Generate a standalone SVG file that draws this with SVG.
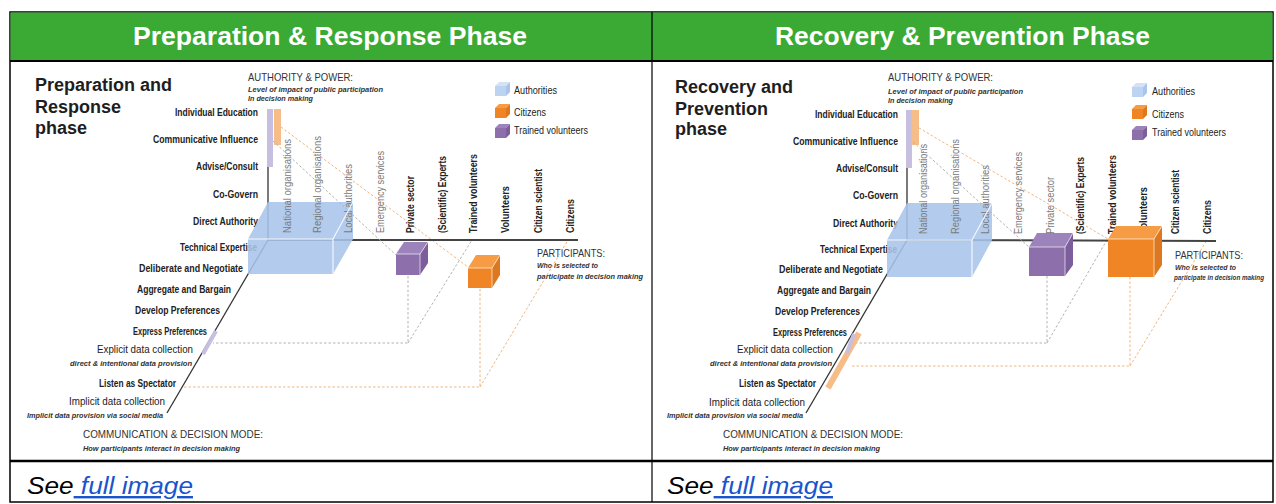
<svg xmlns="http://www.w3.org/2000/svg" width="1276" height="504" viewBox="0 0 1276 504">
<style>
text{font-family:"Liberation Sans",Arial,sans-serif}
.hd{font-size:25px;font-weight:bold;fill:#fff}
.ft{font-size:24px;font-style:italic;fill:#000}
.lnk{fill:#1a55cc;text-decoration:underline}
.ttl{font-size:18px;font-weight:bold;fill:#1e1e1e}
.lbl{font-size:10.5px;font-weight:bold;fill:#222}
.lbn{font-size:11.5px;fill:#222}
.sub{font-size:7.5px;font-style:italic;font-weight:bold;fill:#333}
.ax{font-size:11px;fill:#333}
.colg{font-size:10.5px;fill:#7a7a7a}
.colb{font-size:10.5px;font-weight:bold;fill:#222}
.leg{font-size:10px;fill:#222}
.axis{stroke:#333;stroke-width:1.3;fill:none}
.haxis{stroke:#444;stroke-width:2;fill:none}
.dg{stroke:#b3b3b3;stroke-width:1;stroke-dasharray:2.5 2;fill:none}
.do{stroke:#f2b57e;stroke-width:1;stroke-dasharray:2.5 2;fill:none}
.blue{fill:#a9c5eb;fill-opacity:.88}
.bedge{stroke:#f3f7fd;stroke-width:1.2;fill:none}
.pf{fill:#8c6fab}.pt{fill:#9d83bb}.ps{fill:#7c5e9c}
.of{fill:#f08526}.ot{fill:#f59c45}.os{fill:#de781e}
.cedge{stroke:#fff;stroke-width:.8;stroke-opacity:.8}
.lav{stroke:#c6bfdf}
.pch{stroke:#f6bd89}
</style>

<g id="table">
<rect x="10" y="12" width="1263" height="490" fill="#fff" stroke="#000" stroke-width="1.5"/>
<rect x="10.5" y="12.5" width="1262" height="48" fill="#3aaa35"/>
<line x1="10" y1="61" x2="1273" y2="61" stroke="#000" stroke-width="2"/>
<line x1="10" y1="461" x2="1273" y2="461" stroke="#000" stroke-width="2.5"/>
<line x1="652" y1="12" x2="652" y2="502" stroke="#000" stroke-width="1.2"/>
</g>

<g id="header-left"><text class="hd" x="133" y="45" textLength="394" lengthAdjust="spacingAndGlyphs">Preparation &amp; Response Phase</text></g>
<g id="header-right"><text class="hd" x="775" y="45" textLength="375" lengthAdjust="spacingAndGlyphs">Recovery &amp; Prevention Phase</text></g>

<g id="footer-left"><text class="ft" x="27" y="494" textLength="166" lengthAdjust="spacingAndGlyphs">See<tspan class="lnk"> full image</tspan></text></g>
<g id="footer-right"><text class="ft" x="667" y="494" textLength="166" lengthAdjust="spacingAndGlyphs">See<tspan class="lnk"> full image</tspan></text></g>

<!-- LEFT PANEL -->
<g id="panel-left">
<g id="title-left">
<text class="ttl" x="35" y="91">Preparation and</text>
<text class="ttl" x="35" y="113">Response</text>
<text class="ttl" x="35" y="134">phase</text>
</g>
<g id="authority-axis-left">
<text class="ax" x="248" y="80.5" textLength="105" lengthAdjust="spacingAndGlyphs">AUTHORITY &amp; POWER:</text>
<text class="sub" x="248" y="92" textLength="135" lengthAdjust="spacingAndGlyphs">Level of impact of public participation</text>
<text class="sub" x="248" y="101" textLength="65" lengthAdjust="spacingAndGlyphs">In decision making</text>
<text class="lbl" x="175" y="115.5" textLength="83" lengthAdjust="spacingAndGlyphs">Individual Education</text>
<text class="lbl" x="153" y="142.5" textLength="105" lengthAdjust="spacingAndGlyphs">Communicative Influence</text>
<text class="lbl" x="196" y="169.5" textLength="62" lengthAdjust="spacingAndGlyphs">Advise/Consult</text>
<text class="lbl" x="213" y="197.5" textLength="45" lengthAdjust="spacingAndGlyphs">Co-Govern</text>
<text class="lbl" x="193" y="224.5" textLength="65" lengthAdjust="spacingAndGlyphs">Direct Authority</text>
<text class="lbl" x="180" y="250.5" textLength="77" lengthAdjust="spacingAndGlyphs">Technical Expertise</text>
</g>
<g id="mode-axis-left">
<text class="lbl" x="139" y="271.5" textLength="104" lengthAdjust="spacingAndGlyphs">Deliberate and Negotiate</text>
<text class="lbl" x="137" y="292.5" textLength="94" lengthAdjust="spacingAndGlyphs">Aggregate and Bargain</text>
<text class="lbl" x="135" y="313.5" textLength="85" lengthAdjust="spacingAndGlyphs">Develop Preferences</text>
<text class="lbl" x="133" y="334.5" textLength="74" lengthAdjust="spacingAndGlyphs">Express Preferences</text>
<text class="lbn" x="97" y="353" textLength="96" lengthAdjust="spacingAndGlyphs">Explicit data collection</text>
<text class="sub" x="70" y="366" textLength="122" lengthAdjust="spacingAndGlyphs">direct &amp; intentional data provision</text>
<text class="lbl" x="99" y="387" textLength="77" lengthAdjust="spacingAndGlyphs">Listen as Spectator</text>
<text class="lbn" x="69" y="405" textLength="96" lengthAdjust="spacingAndGlyphs">Implicit data collection</text>
<text class="sub" x="27" y="418" textLength="136" lengthAdjust="spacingAndGlyphs">Implicit data provision via social media</text>
<text class="ax" x="83" y="437.5" textLength="180" lengthAdjust="spacingAndGlyphs">COMMUNICATION &amp; DECISION MODE:</text>
<text class="sub" x="83" y="450.5" textLength="157" lengthAdjust="spacingAndGlyphs">How participants interact  in decision making</text>
</g>
<g id="participants-left">
<text class="ax" x="537" y="257" textLength="68" lengthAdjust="spacingAndGlyphs" fill="#555">PARTICIPANTS:</text>
<text class="sub" x="537" y="268" textLength="61" lengthAdjust="spacingAndGlyphs">Who is selected to</text>
<text class="sub" x="537" y="279" textLength="106" lengthAdjust="spacingAndGlyphs">participate in decision making</text>
</g>
<g id="legend-left">
<rect x="495" y="86" width="11" height="10" fill="#bcd4f1"/><polygon points="495,86 499,82 510,82 506,86" fill="#d3e2f6"/><polygon points="506,86 510,82 510,92 506,96" fill="#a9c5eb"/>
<rect x="495" y="108" width="11" height="10" class="of"/><polygon points="495,108 499,104 510,104 506,108" class="ot"/><polygon points="506,108 510,104 510,114 506,118" class="os"/>
<rect x="495" y="128" width="11" height="10" class="pf"/><polygon points="495,128 499,124 510,124 506,128" class="pt"/><polygon points="506,128 510,124 510,134 506,138" class="ps"/>
<text class="leg" x="514" y="93.5" textLength="43" lengthAdjust="spacingAndGlyphs">Authorities</text>
<text class="leg" x="514" y="115.5" textLength="32" lengthAdjust="spacingAndGlyphs">Citizens</text>
<text class="leg" x="514" y="133.5" textLength="74" lengthAdjust="spacingAndGlyphs">Trained volunteers</text>
</g>
<g id="connectors-left">
<line class="do" x1="281" y1="127" x2="468" y2="267"/>
<polyline class="dg" points="408,276 408,343 213,343"/>
<line class="dg" x1="408" y1="343" x2="472" y2="240"/>
<polyline class="do" points="480,289 480,387 182,387"/>
<line class="do" x1="480" y1="387" x2="568" y2="240"/>
</g>
<g id="axes-left">
<line class="axis" x1="268" y1="109" x2="268" y2="240"/>
<line class="haxis" x1="268" y1="240" x2="578" y2="240"/>
<line class="axis" x1="268" y1="240" x2="167" y2="413"/>
<rect x="267" y="109" width="6" height="58" fill="#c6bfdf"/>
<rect x="274" y="109" width="7" height="36" fill="#f6bd89"/>
<line class="lav" x1="216" y1="331" x2="203" y2="354" stroke-width="4"/>
</g>
<g id="cube-authorities-left">
<polygon class="blue" points="248,274 248,239 268,202 353,202 353,239 333,274"/>
</g>
<g id="columns-left">
<text class="colg" transform="translate(290.5,233) rotate(-90)" textLength="94" lengthAdjust="spacingAndGlyphs">National organisations</text>
<text class="colg" transform="translate(320.5,233) rotate(-90)" textLength="97" lengthAdjust="spacingAndGlyphs">Regional organisations</text>
<text class="colg" transform="translate(351.5,233) rotate(-90)" textLength="69" lengthAdjust="spacingAndGlyphs">Local authorities</text>
<text class="colg" transform="translate(383.5,233) rotate(-90)" textLength="82" lengthAdjust="spacingAndGlyphs">Emergency services</text>
<text class="colb" transform="translate(413.5,233) rotate(-90)" textLength="57" lengthAdjust="spacingAndGlyphs">Private sector</text>
<text class="colb" transform="translate(445.5,233) rotate(-90)" textLength="77" lengthAdjust="spacingAndGlyphs">(Scientific) Experts</text>
<text class="colb" transform="translate(476.5,233) rotate(-90)" textLength="79" lengthAdjust="spacingAndGlyphs">Trained volunteers</text>
<text class="colb" transform="translate(508.5,233) rotate(-90)" textLength="47" lengthAdjust="spacingAndGlyphs">Volunteers</text>
<text class="colb" transform="translate(541.5,233) rotate(-90)" textLength="64" lengthAdjust="spacingAndGlyphs">Citizen scientist</text>
<text class="colb" transform="translate(573.5,233) rotate(-90)" textLength="34" lengthAdjust="spacingAndGlyphs">Citizens</text>
</g>
<g id="cube-edges-left">
<polyline class="bedge" points="248,239 333,239 353,202"/>
<line class="bedge" x1="333" y1="239" x2="333" y2="274"/>
<line class="dg" x1="273" y1="141" x2="396" y2="255"/>
</g>
<g id="cube-volunteers-left">
<rect x="396" y="254" width="24" height="21" class="pf"/>
<polygon points="396,254 404,242 428,242 420,254" class="pt"/>
<polygon points="420,254 428,242 428,263 420,275" class="ps"/>
<polyline class="cedge" fill="none" points="396,254 420,254 428,242"/><line class="cedge" x1="420" y1="254" x2="420" y2="275"/>
</g>
<g id="cube-citizens-left">
<rect x="468" y="268" width="24" height="20" class="of"/>
<polygon points="468,268 476,255 500,255 492,268" class="ot"/>
<polygon points="492,268 500,255 500,275 492,288" class="os"/>
<polyline class="cedge" fill="none" points="468,268 492,268 500,255"/><line class="cedge" x1="492" y1="268" x2="492" y2="288"/>
</g>
</g>

<!-- RIGHT PANEL -->
<g id="panel-right" transform="translate(640,0)">
<g id="title-right">
<text class="ttl" x="35" y="93">Recovery and</text>
<text class="ttl" x="35" y="115">Prevention</text>
<text class="ttl" x="35" y="135">phase</text>
</g>
<g id="authority-axis-right">
<text class="ax" x="248" y="81" textLength="105" lengthAdjust="spacingAndGlyphs">AUTHORITY &amp; POWER:</text>
<text class="sub" x="248" y="93.5" textLength="135" lengthAdjust="spacingAndGlyphs">Level of impact of public participation</text>
<text class="sub" x="248" y="102.5" textLength="65" lengthAdjust="spacingAndGlyphs">In decision making</text>
<text class="lbl" x="175" y="117.5" textLength="83" lengthAdjust="spacingAndGlyphs">Individual Education</text>
<text class="lbl" x="153" y="144.5" textLength="105" lengthAdjust="spacingAndGlyphs">Communicative Influence</text>
<text class="lbl" x="196" y="171.5" textLength="62" lengthAdjust="spacingAndGlyphs">Advise/Consult</text>
<text class="lbl" x="213" y="198.5" textLength="45" lengthAdjust="spacingAndGlyphs">Co-Govern</text>
<text class="lbl" x="193" y="226.5" textLength="65" lengthAdjust="spacingAndGlyphs">Direct Authority</text>
<text class="lbl" x="180" y="252.5" textLength="77" lengthAdjust="spacingAndGlyphs">Technical Expertise</text>
</g>
<g id="mode-axis-right">
<text class="lbl" x="139" y="272.5" textLength="104" lengthAdjust="spacingAndGlyphs">Deliberate and Negotiate</text>
<text class="lbl" x="137" y="293.5" textLength="94" lengthAdjust="spacingAndGlyphs">Aggregate and Bargain</text>
<text class="lbl" x="135" y="314.5" textLength="85" lengthAdjust="spacingAndGlyphs">Develop Preferences</text>
<text class="lbl" x="133" y="335.5" textLength="74" lengthAdjust="spacingAndGlyphs">Express Preferences</text>
<text class="lbn" x="97" y="353" textLength="96" lengthAdjust="spacingAndGlyphs">Explicit data collection</text>
<text class="sub" x="70" y="366" textLength="122" lengthAdjust="spacingAndGlyphs">direct &amp; intentional data provision</text>
<text class="lbl" x="99" y="387" textLength="77" lengthAdjust="spacingAndGlyphs">Listen as Spectator</text>
<text class="lbn" x="69" y="405.5" textLength="96" lengthAdjust="spacingAndGlyphs">Implicit data collection</text>
<text class="sub" x="27" y="418" textLength="136" lengthAdjust="spacingAndGlyphs">Implicit data provision via social media</text>
<text class="ax" x="83" y="438" textLength="180" lengthAdjust="spacingAndGlyphs">COMMUNICATION &amp; DECISION MODE:</text>
<text class="sub" x="83" y="450.5" textLength="157" lengthAdjust="spacingAndGlyphs">How participants interact  in decision making</text>
</g>
<g id="participants-right">
<text class="ax" x="535" y="259" textLength="68" lengthAdjust="spacingAndGlyphs" fill="#555">PARTICIPANTS:</text>
<text class="sub" x="535" y="270" textLength="61" lengthAdjust="spacingAndGlyphs">Who is selected to</text>
<text class="sub" x="534" y="280" style="font-size:6.4px" textLength="90" lengthAdjust="spacingAndGlyphs">participate in decision making</text>
</g>
<g id="legend-right">
<rect x="492" y="87" width="11" height="10" fill="#bcd4f1"/><polygon points="492,87 496,83 507,83 503,87" fill="#d3e2f6"/><polygon points="503,87 507,83 507,93 503,97" fill="#a9c5eb"/>
<rect x="492" y="109" width="11" height="10" class="of"/><polygon points="492,109 496,105 507,105 503,109" class="ot"/><polygon points="503,109 507,105 507,115 503,119" class="os"/>
<rect x="492" y="130" width="11" height="10" class="pf"/><polygon points="492,130 496,126 507,126 503,130" class="pt"/><polygon points="503,130 507,126 507,136 503,140" class="ps"/>
<text class="leg" x="512" y="94.5" textLength="43" lengthAdjust="spacingAndGlyphs">Authorities</text>
<text class="leg" x="512" y="117.5" textLength="32" lengthAdjust="spacingAndGlyphs">Citizens</text>
<text class="leg" x="512" y="135.5" textLength="74" lengthAdjust="spacingAndGlyphs">Trained volunteers</text>
</g>
<g id="connectors-right">
<line class="do" x1="279" y1="128" x2="468" y2="239"/>
<polyline class="dg" points="407,276 407,343 213,343"/>
<line class="dg" x1="407" y1="343" x2="467" y2="240"/>
<polyline class="do" points="490,277 490,366 210,366"/>
<line class="do" x1="490" y1="366" x2="567" y2="240"/>
</g>
<g id="axes-right">
<line class="axis" x1="267" y1="110" x2="267" y2="240"/>
<line class="haxis" x1="267" y1="240" x2="576" y2="241"/>
<line class="axis" x1="267" y1="240" x2="166" y2="413"/>
<rect x="266" y="110" width="6" height="58" fill="#c6bfdf"/>
<rect x="272" y="110" width="7" height="35" fill="#f6bd89"/>
<line class="pch" x1="219" y1="333" x2="188" y2="388" stroke-width="6"/>
<line class="lav" x1="214" y1="334" x2="207" y2="353" stroke-width="4"/>
</g>
<g id="cube-authorities-right">
<polygon class="blue" points="247,277 247,240 267,203 352,203 352,240 332,277"/>
</g>
<g id="columns-right">
<text class="colg" transform="translate(286.5,234) rotate(-90)" textLength="90" lengthAdjust="spacingAndGlyphs">National organisations</text>
<text class="colg" transform="translate(318.5,234) rotate(-90)" textLength="95" lengthAdjust="spacingAndGlyphs">Regional organisations</text>
<text class="colg" transform="translate(348.5,234) rotate(-90)" textLength="69" lengthAdjust="spacingAndGlyphs">Local authorities</text>
<text class="colg" transform="translate(381.5,234) rotate(-90)" textLength="82" lengthAdjust="spacingAndGlyphs">Emergency services</text>
<text class="colg" transform="translate(413.5,234) rotate(-90)" textLength="57" lengthAdjust="spacingAndGlyphs">Private sector</text>
<text class="colb" transform="translate(443.5,234) rotate(-90)" textLength="77" lengthAdjust="spacingAndGlyphs">(Scientific) Experts</text>
<text class="colb" transform="translate(475.5,234) rotate(-90)" textLength="79" lengthAdjust="spacingAndGlyphs">Trained volunteers</text>
<text class="colb" transform="translate(506.5,234) rotate(-90)" textLength="47" lengthAdjust="spacingAndGlyphs">Volunteers</text>
<text class="colb" transform="translate(538.5,234) rotate(-90)" textLength="64" lengthAdjust="spacingAndGlyphs">Citizen scientist</text>
<text class="colb" transform="translate(570.5,234) rotate(-90)" textLength="34" lengthAdjust="spacingAndGlyphs">Citizens</text>
</g>
<g id="cube-edges-right">
<polyline class="bedge" points="247,240 332,240 352,203"/>
<line class="bedge" x1="332" y1="240" x2="332" y2="277"/>
<line class="dg" x1="273" y1="142" x2="389" y2="247"/>
</g>
<g id="cube-volunteers-right">
<rect x="389" y="247" width="36" height="29" class="pf"/>
<polygon points="389,247 397,233 433,233 425,247" class="pt"/>
<polygon points="425,247 433,233 433,265 425,276" class="ps"/>
<polyline class="cedge" fill="none" points="389,247 425,247 433,233"/><line class="cedge" x1="425" y1="247" x2="425" y2="276"/>
</g>
<g id="cube-citizens-right">
<rect x="468" y="239" width="46" height="38" class="of"/>
<polygon points="468,239 476,226 522,226 514,239" class="ot"/>
<polygon points="514,239 522,226 522,265 514,277" class="os"/>
<polyline class="cedge" fill="none" points="468,239 514,239 522,226"/><line class="cedge" x1="514" y1="239" x2="514" y2="277"/>
</g>
</g>
</svg>
